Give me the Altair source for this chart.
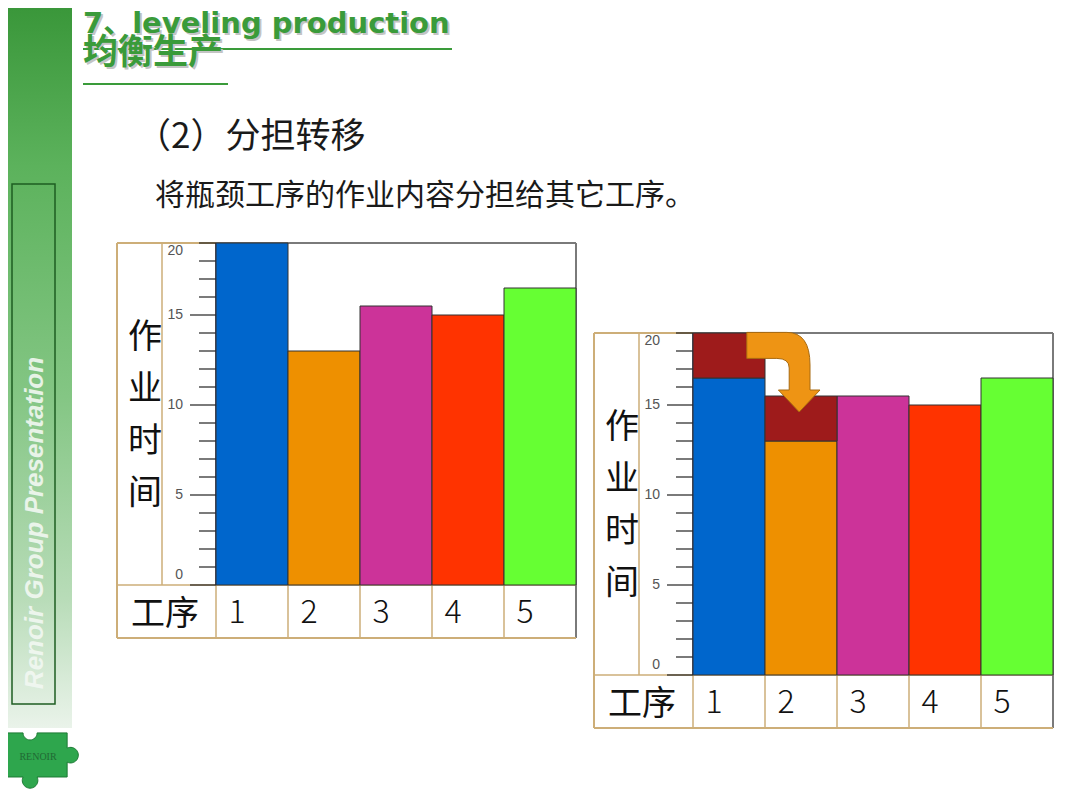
import altair as alt
import pandas as pd

# ---------------- data ----------------
processes = ["1", "2", "3", "4", "5"]
before_times = [19, 13, 15.5, 15, 16.5]
after_times = [16.5, 13, 15.5, 15, 16.5]
moved_times = [2.5, 2.5, 0, 0, 0]
y_tick_values = list(range(0, 20))
y_title_chars = ["作", "业", "时", "间"]
x_title = "工序"

title_en = "7、leveling production"
title_cn = "均衡生产"
subtitle = "（2）分担转移"
description = "将瓶颈工序的作业内容分担给其它工序。"
sidebar_text = "Renoir Group Presentation"
logo_text = "RENOIR"

# ---------------- styles ----------------
palette = ["#0066CC", "#EE9000", "#CC3399", "#FF3300", "#66FF33"]
moved_color = "#9E1B1B"
GREEN = "#3A9B3A"
TAN = "#CDAE78"
GRAY = "#7A7A7A"
CJK = "Noto Sans CJK SC"

W, H = 1064, 794
M = 8


def px(v):
    return v - M


dummy = alt.Data(values=[{"k": 0}])


def seg(x1, y1, x2, y2, color, width):
    return alt.Chart(dummy).mark_rule(color=color, strokeWidth=width).encode(
        x=alt.value(px(x1)), y=alt.value(px(y1)),
        x2=alt.value(px(x2)), y2=alt.value(px(y2)))


def label(text, x, y, size, color="#111111", font=CJK, weight="normal",
          align="left", baseline="alphabetic", **kw):
    return alt.Chart(dummy).mark_text(
        text=text, font=font, fontSize=size, fontWeight=weight, color=color,
        align=align, baseline=baseline, **kw
    ).encode(x=alt.value(px(x)), y=alt.value(px(y)))


def panel(times, dx, dy, moved=None):
    df = pd.DataFrame({"process": processes, "time": times})
    if moved is not None:
        df["moved"] = moved
    ticks = pd.DataFrame({"v": y_tick_values})
    xs = alt.Scale(domain=processes, range=[px(216 + dx), px(576 + dx)],
                   paddingInner=0, paddingOuter=0)
    ys = alt.Scale(domain=[0, 19], range=[px(585 + dy), px(243 + dy)], nice=False)
    xenc = alt.X("process:N", scale=xs, axis=None)
    yt = alt.Y("v:Q", scale=ys, axis=None)

    frame = [
        seg(117 + dx, 243 + dy, 216 + dx, 243 + dy, TAN, 2),
        seg(216 + dx, 243 + dy, 576 + dx, 243 + dy, GRAY, 2),
        seg(576 + dx, 243 + dy, 576 + dx, 638 + dy, GRAY, 2),
        seg(117 + dx, 243 + dy, 117 + dx, 638 + dy, TAN, 2),
        seg(117 + dx, 638 + dy, 576 + dx, 638 + dy, TAN, 2),
        seg(162 + dx, 243 + dy, 162 + dx, 585 + dy, TAN, 1.5),
        seg(117 + dx, 585 + dy, 576 + dx, 585 + dy, TAN, 1.5),
    ]
    dividers = alt.Chart(df).mark_rule(color=TAN, strokeWidth=1.5).encode(
        x=alt.X("process:N", scale=xs, axis=None, bandPosition=0),
        y=alt.value(px(585 + dy)), y2=alt.value(px(638 + dy)))

    tick_base = alt.Chart(ticks)
    major = tick_base.transform_filter("datum.v % 5 === 0").mark_rule(
        color="#222222", strokeWidth=1.2
    ).encode(y=yt, x=alt.value(px(190 + dx)), x2=alt.value(px(216 + dx)))
    minor = tick_base.transform_filter("datum.v % 5 !== 0").mark_rule(
        color="#222222", strokeWidth=1.2
    ).encode(y=yt, x=alt.value(px(199 + dx)), x2=alt.value(px(216 + dx)))
    lab = tick_base.transform_calculate(
        lbl="datum.v === 19 ? '20' : '' + datum.v")
    lab_kw = dict(font="Liberation Sans", fontSize=14, color="#555555", align="right")
    lab_mid = lab.transform_filter("datum.v % 5 === 0 && datum.v > 0").mark_text(
        baseline="middle", **lab_kw
    ).encode(y=yt, x=alt.value(px(183 + dx)), text="lbl:N")
    lab_zero = lab.transform_filter("datum.v === 0").mark_text(
        baseline="bottom", dy=-3, **lab_kw
    ).encode(y=yt, x=alt.value(px(183 + dx)), text="lbl:N")
    lab_top = lab.transform_filter("datum.v === 19").mark_text(
        baseline="top", dy=1, **lab_kw
    ).encode(y=yt, x=alt.value(px(183 + dx)), text="lbl:N")
    domain = seg(216 + dx, 243 + dy, 216 + dx, 585 + dy, "#1a1a3a", 1.5)

    bars = alt.Chart(df).mark_bar(stroke="#333333", strokeWidth=1).encode(
        x=xenc,
        y=alt.Y("time:Q", scale=ys, axis=None),
        color=alt.Color("process:N", scale=alt.Scale(domain=processes, range=palette),
                        legend=None),
    )
    layers = frame + [dividers, major, minor, lab_mid, lab_zero, lab_top, domain, bars]
    if moved is not None:
        top = alt.Chart(df).transform_filter("datum.moved > 0").transform_calculate(
            top="datum.time + datum.moved"
        ).mark_bar(color=moved_color, stroke="#333333", strokeWidth=1).encode(
            x=xenc,
            y=alt.Y("time:Q", scale=ys, axis=None),
            y2="top:Q",
        )
        layers.append(top)

    cat_labels = alt.Chart(df).mark_text(
        font=CJK, fontSize=32, fontWeight=300, color="#111111",
        align="center", baseline="alphabetic", dx=-15
    ).encode(x=xenc, y=alt.value(px(623 + dy)), text="process:N")
    layers.append(cat_labels)
    layers.append(label(x_title, 165 + dx, 625 + dy, 34, align="center"))
    layers.append(label(y_title_chars, 145 + dx, 348 + dy, 34, align="center",
                        lineHeight=52))
    return alt.layer(*layers)


# ---------------- decorations ----------------
sidebar = alt.Chart(dummy).mark_rect(
    color=alt.Gradient(
        gradient="linear", x1=0, x2=0, y1=0, y2=1,
        stops=[
            alt.GradientStop(color="#3A973A", offset=0),
            alt.GradientStop(color="#5CB25C", offset=0.22),
            alt.GradientStop(color="#84C684", offset=0.54),
            alt.GradientStop(color="#B8DCB8", offset=0.82),
            alt.GradientStop(color="#EAF3EA", offset=1),
        ],
    )
).encode(x=alt.value(0), x2=alt.value(px(72)), y=alt.value(0), y2=alt.value(px(728)))

sidebar_frame = alt.Chart(dummy).mark_rect(
    fillOpacity=0, stroke="#1E5E22", strokeWidth=1.5
).encode(x=alt.value(px(12)), x2=alt.value(px(55)), y=alt.value(px(184)), y2=alt.value(px(704)))

side_text = alt.Chart(dummy).mark_text(
    text=sidebar_text, angle=270, font="Liberation Sans", fontStyle="italic",
    fontWeight="bold", fontSize=26, color="#F2F8F2", opacity=0.9,
    align="center", baseline="middle"
).encode(x=alt.value(px(35)), y=alt.value(px(523)))

PUZZLE = ("M -0.97 -0.72 L -0.46 -0.72 A 0.18 0.18 0 0 0 -0.10 -0.72 L 0.67 -0.72 "
          "L 0.67 -0.33 A 0.2 0.2 0 1 1 0.67 0.03 L 0.67 0.41 L -0.10 0.41 "
          "A 0.2 0.2 0 1 1 -0.46 0.41 L -0.97 0.41 Z")
logo = alt.Chart(dummy).mark_point(
    shape=PUZZLE, size=6084, filled=True, fill="#2EA64D", stroke="#1D7A35",
    strokeWidth=1, opacity=1
).encode(x=alt.value(px(41)), y=alt.value(px(761)))
logo_lbl = label(logo_text, 38, 760, 10, color="#1F5F30", font="Liberation Serif",
                 align="center", opacity=0.85)

ARROW = ("M -0.93 -0.99 L 0.07 -0.99 Q 0.65 -0.99 0.65 -0.175 L 0.65 0.45 "
         "L 0.9 0.45 L 0.38 1 L -0.14 0.45 L 0.13 0.45 L 0.13 -0.1 "
         "Q 0.13 -0.34 -0.18 -0.34 L -0.93 -0.34 Z")
arrow = alt.Chart(dummy).mark_point(
    shape=ARROW, size=6400, filled=True, fill="#EE9414", stroke="#A86A10",
    strokeWidth=1, opacity=1
).encode(x=alt.value(px(784)), y=alt.value(px(372)))

TITLE_FONT = "DejaVu Sans, Noto Sans CJK SC"
titles = [
    label(title_en, 85, 35, 29, color="#C4C4C4", font=TITLE_FONT, weight="bold"),
    label(title_en, 83, 33, 29, color=GREEN, font=TITLE_FONT, weight="bold"),
    seg(83, 49, 452, 49, GREEN, 2),
    label(title_cn, 85, 66, 35, color="#C4C4C4", weight="bold"),
    label(title_cn, 83, 64, 35, color=GREEN, weight="bold"),
    seg(83, 84, 228, 84, GREEN, 2),
    label(subtitle, 136, 148, 35, color="#1a1a1a"),
    label(description, 155, 205, 30, color="#1a1a1a"),
]

left_panel = panel(before_times, 0, 0)
right_panel = panel(after_times, 477, 90, moved=moved_times)

chart = alt.layer(
    sidebar, sidebar_frame, side_text, logo, logo_lbl, *titles,
    left_panel, right_panel, arrow
).resolve_scale(
    x="independent", y="independent"
).properties(
    width=W, height=H, autosize=alt.AutoSizeParams(type="none"), padding=0
).configure_view(stroke=None)

chart.save("out.html", embed_options={"renderer": "svg", "actions": False})
